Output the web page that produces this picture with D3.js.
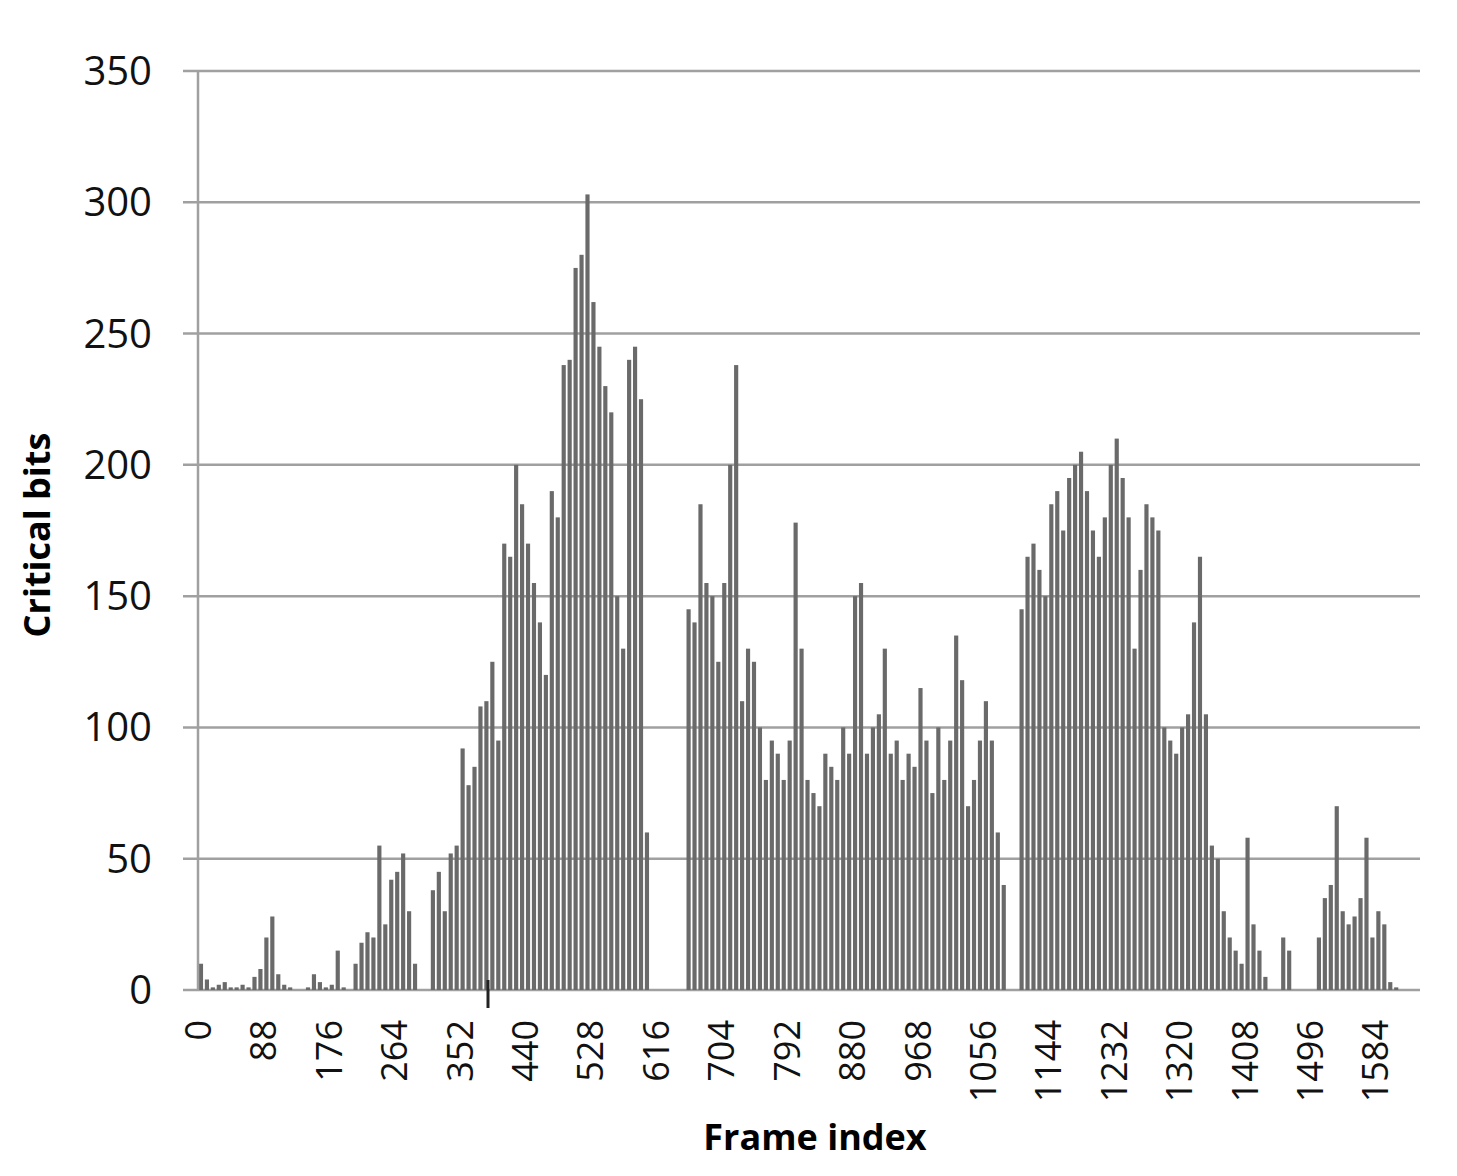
<!DOCTYPE html>
<html><head><meta charset="utf-8">
<script src="https://cdn.jsdelivr.net/npm/d3@7"></script>
<style>body{margin:0;background:#fff}</style>
</head><body>
<div id="chart"></div>
<script>
// critical bits, one value per 8-frame bin
var binSize = 8;
var bitsValues = [
 10,4,1,2,3,1,1,2,1,5,8,
 20,28,6,2,1,0,0,1,6,3,1,
 2,15,1,0,10,18,22,20,55,25,42,
 45,52,30,10,0,0,38,45,30,52,55,
 92,78,85,108,110,125,95,170,165,200,185,
 170,155,140,120,190,180,238,240,275,280,303,
 262,245,230,220,150,130,240,245,225,60,0,
 0,0,0,0,0,145,140,185,155,150,125,
 155,200,238,110,130,125,100,80,95,90,80,
 95,178,130,80,75,70,90,85,80,100,90,
 150,155,90,100,105,130,90,95,80,90,85,
 115,95,75,100,80,95,135,118,70,80,95,
 110,95,60,40,0,0,145,165,170,160,150,
 185,190,175,195,200,205,190,175,165,180,200,
 210,195,180,130,160,185,180,175,100,95,90,
 100,105,140,165,105,55,50,30,20,15,10,
 58,25,15,5,0,0,20,15,0,0,0,
 0,20,35,40,70,30,25,28,35,58,20,
 30,25,3,1,0
];
var xTicks = [0,88,176,264,352,440,528,616,704,792,880,968,1056,1144,1232,1320,1408,1496,1584];
var yTicks = [0,50,100,150,200,250,300,350];

var W = 1457, H = 1176;
var svg = d3.select("#chart").append("svg").attr("width", W).attr("height", H);
var font = "'Open Sans', sans-serif";

var x = d3.scaleLinear().domain([0, 1644]).range([198, 1420]);
var y = d3.scaleLinear().domain([0, 350]).range([990, 71]);

svg.selectAll("line.grid").data(yTicks).enter().append("line")
  .attr("x1", 183).attr("x2", 1420)
  .attr("y1", function(d){return y(d);}).attr("y2", function(d){return y(d);})
  .attr("stroke", "#a0a0a0").attr("stroke-width", 2.5);

svg.selectAll("text.yl").data(yTicks).enter().append("text")
  .attr("x", 152).attr("y", function(d){return y(d) + 14;})
  .attr("text-anchor", "end").attr("font-family", font).attr("font-size", 40)
  .attr("fill", "#111").text(function(d){return d;});

var bw = (x(binSize) - x(0));
svg.selectAll("rect.bar").data(bitsValues).enter().append("rect")
  .attr("x", function(d,i){return x(i * binSize) + bw * 0.15;})
  .attr("width", bw * 0.7)
  .attr("y", function(d){return y(d);})
  .attr("height", function(d){return y(0) - y(d);})
  .attr("fill", "#6a6a6a");

svg.append("line").attr("x1", 198).attr("x2", 198).attr("y1", 71).attr("y2", 990)
  .attr("stroke", "#a0a0a0").attr("stroke-width", 2.5);
svg.append("line").attr("x1", 488).attr("x2", 488).attr("y1", 980).attr("y2", 1008)
  .attr("stroke", "#222").attr("stroke-width", 3);

svg.selectAll("text.xl").data(xTicks).enter().append("text")
  .attr("transform", function(d){return "translate(" + (x(d) + 13) + ",1020) rotate(-90)";})
  .attr("text-anchor", "end").attr("font-family", font).attr("font-size", 36)
  .attr("fill", "#111").text(function(d){return d;});

svg.append("text").attr("x", 815).attr("y", 1150).attr("text-anchor", "middle")
  .attr("font-family", font).attr("font-weight", "bold").attr("font-size", 36)
  .text("Frame index");
svg.append("text").attr("transform", "translate(50,535) rotate(-90)").attr("text-anchor", "middle")
  .attr("font-family", font).attr("font-weight", "bold").attr("font-size", 36)
  .text("Critical bits");
</script>
</body></html>
